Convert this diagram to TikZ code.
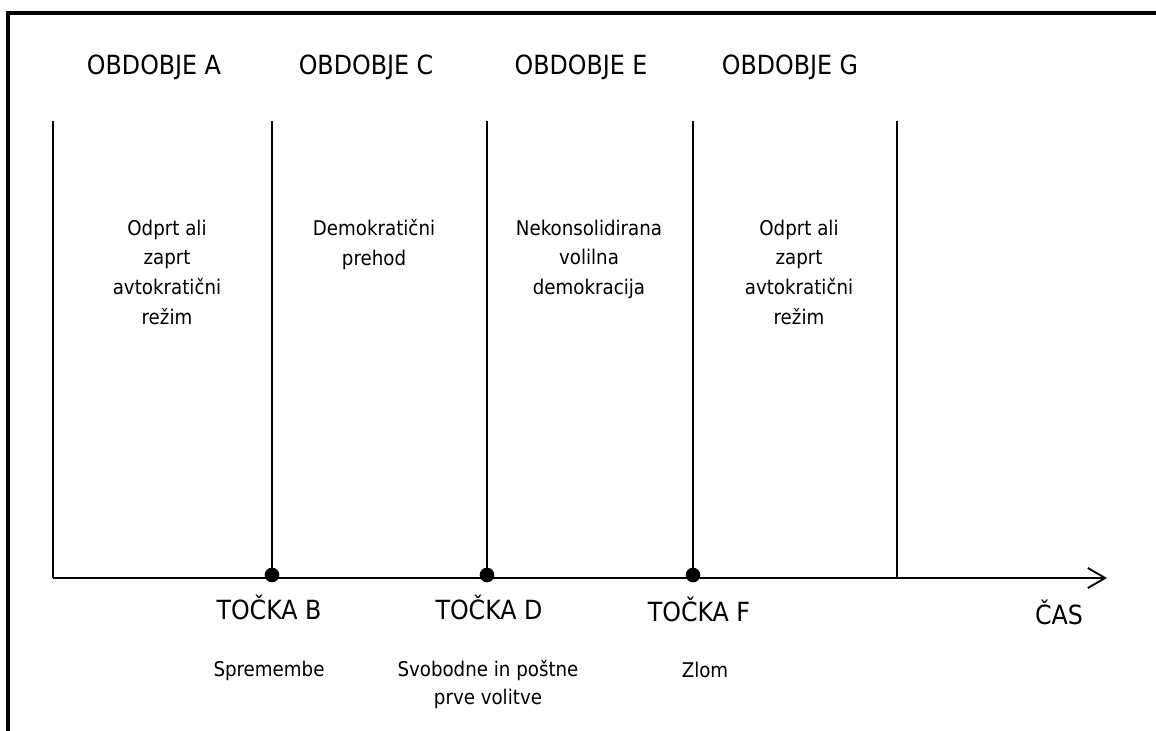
\documentclass[tikz,border=0pt]{standalone}
\usepackage{fontspec}
\setmainfont{DejaVu Sans Condensed}
\usetikzlibrary{arrows.meta,positioning}

\begin{document}
\begin{tikzpicture}[x=0.75pt,y=-0.75pt,>={Straight Barb[length=13pt,width=15pt]},
	period/.style={font=\fontsize{19.8}{23}\selectfont},
	regime/.style={align=center,anchor=north,font=\fontsize{15.2}{22.3}\selectfont},
	event/.style={align=center,anchor=north,font=\fontsize{15.2}{21}\selectfont},
	dot/.style={circle,fill,inner sep=0,minimum size=11pt},
	divider/.style={line width=1.4pt}]
	\useasboundingbox (0,0) rectangle (1156,731);
	% frame
	\draw[line width=2.6pt] (1160,13) -- (8,13) -- (8,735);
	% periods
	\node[period] (pa) at (154,67) {OBDOBJE A};
	\node[period] (pc) at (366,67) {OBDOBJE C};
	\node[period] (pe) at (581,67) {OBDOBJE E};
	\node[period] (pg) at (790,67) {OBDOBJE G};
	\node[regime] (ra) at (167,215) {Odprt ali\\zaprt\\avtokratični\\režim};
	\node[regime] (rc) at (374,215) {Demokratični\\prehod};
	\node[regime] (re) at (589,215) {Nekonsolidirana\\volilna\\demokracija};
	\node[regime] (rg) at (799,215) {Odprt ali\\zaprt\\avtokratični\\režim};
	% time axis
	\coordinate (o) at (53,578);
	\coordinate (end) at (1107,578);
	\draw[divider,->] (o) -- (end);
	\node[dot] (b) at (272,575) {};
	\node[dot] (d) at (487,575) {};
	\node[dot] (f) at (693,575) {};
	\coordinate (g) at (897,578);
	\coordinate (t1) at (53,121);
	\coordinate (t2) at (272,121);
	\coordinate (t3) at (487,121);
	\coordinate (t4) at (693,121);
	\coordinate (t5) at (897,121);
	\draw[divider] (t1) -- (o);
	\draw[divider] (t2) -- (b.center);
	\draw[divider] (t3) -- (d.center);
	\draw[divider] (t4) -- (f.center);
	\draw[divider] (t5) -- (g);
	% points
	\node[period] (tb) at (269,607) {TOČKA B};
	\node[period] (td) at (489,607) {TOČKA D};
	\node[period] (tf) at (699,609) {TOČKA F};
	\node[period] (cas) at (1059,612) {ČAS};
	\node[event] (eb) at (269,656) {Spremembe};
	\node[event] (ed) at (488,656) {Svobodne in poštne\\prve volitve};
	\node[event] (ef) at (705,657) {Zlom};
\end{tikzpicture}
\end{document}
